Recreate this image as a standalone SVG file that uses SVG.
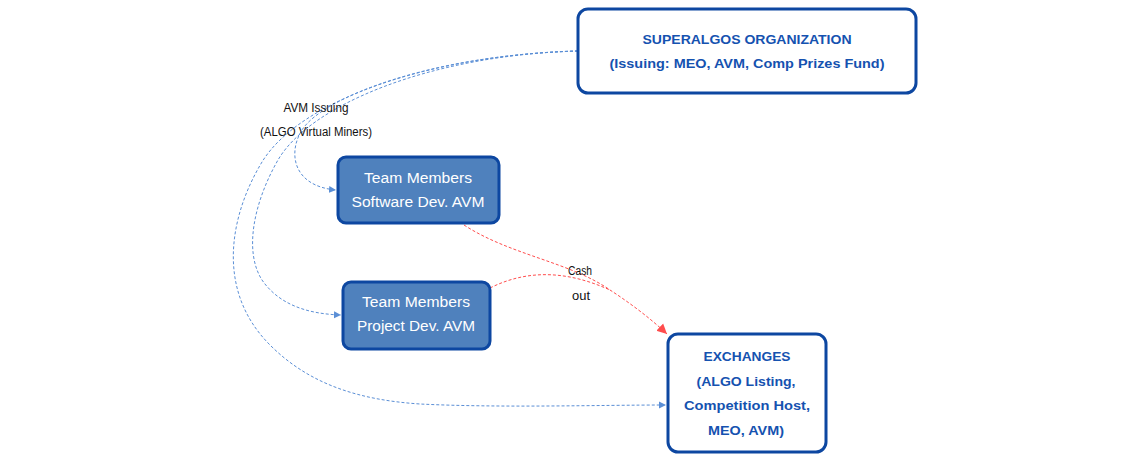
<svg xmlns="http://www.w3.org/2000/svg" width="1140" height="459" viewBox="0 0 1140 459">
<style>
.org{fill:#ffffff;stroke:#0d47a1;stroke-width:3}
.team{fill:#4f81bd;stroke:#0d47a1;stroke-width:3}
.bt{font-family:"Liberation Sans",Arial,sans-serif;font-weight:bold;font-size:13px;fill:#1552b0;text-anchor:middle}
.wt{font-family:"Liberation Sans",Arial,sans-serif;font-size:14px;fill:#ffffff;text-anchor:middle}
.lbl{font-family:"Liberation Sans",Arial,sans-serif;font-size:12px;fill:#111111;text-anchor:middle}
.blue{fill:none;stroke:#5b8fd6;stroke-width:1;stroke-dasharray:3,2}
.red{fill:none;stroke:#ff4d4d;stroke-width:1;stroke-dasharray:3,2}
</style>
<defs>
<marker id="ab" markerWidth="8" markerHeight="8" refX="7" refY="4" orient="auto" markerUnits="userSpaceOnUse">
<path d="M0,0.5 L7,4 L0,7.5 Z" fill="#5b8fd6"/>
</marker>
<marker id="ar" markerWidth="11" markerHeight="11" refX="10" refY="5.5" orient="auto" markerUnits="userSpaceOnUse">
<path d="M0,0.5 L10,5.5 L0,10.5 Z" fill="#ff4d4d"/>
</marker>
</defs>
<rect width="1140" height="459" fill="#ffffff"/>
<g id="connectors">
<path class="blue" d="M578,51 C430,55 322,98 302,130 C288,152 292,186 336,190" marker-end="url(#ab)"/>
<path class="blue" d="M578,51 C430,55 310,105 278,160 C255,200 243,250 262,280 C280,306 310,314 341,315" marker-end="url(#ab)"/>
<path class="blue" d="M578,51 C430,55 300,100 262,162 C230,215 215,290 270,345 C310,385 360,400 420,404 C500,408 600,405 666,405" marker-end="url(#ab)"/>
<path class="red" d="M464,225 C510,255 570,262 610,290 C630,303 650,318 667,334" marker-end="url(#ar)"/>
<path class="red" d="M490,288 C530,268 570,272 610,290"/>
<text class="lbl" x="316" y="112" textLength="65" lengthAdjust="spacingAndGlyphs">AVM Issuing</text>
<text class="lbl" x="316" y="136" textLength="112" lengthAdjust="spacingAndGlyphs">(ALGO Virtual Miners)</text>
<text class="lbl" x="580" y="275" textLength="24" lengthAdjust="spacingAndGlyphs">Cash</text>
<text class="lbl" x="581" y="300" textLength="18" lengthAdjust="spacingAndGlyphs">out</text>
</g>
<g id="superalgos">
<rect class="org" x="578" y="9" width="338" height="84" rx="10"/>
<text class="bt" x="747" y="44" textLength="209" lengthAdjust="spacingAndGlyphs">SUPERALGOS ORGANIZATION</text>
<text class="bt" x="747" y="68" textLength="275" lengthAdjust="spacingAndGlyphs">(Issuing: MEO, AVM, Comp Prizes Fund)</text>
</g>
<g id="team-software">
<rect class="team" x="338" y="157" width="161" height="66" rx="8"/>
<text class="wt" x="418" y="183" textLength="108" lengthAdjust="spacingAndGlyphs">Team Members</text>
<text class="wt" x="418" y="207" textLength="133" lengthAdjust="spacingAndGlyphs">Software Dev. AVM</text>
</g>
<g id="team-project">
<rect class="team" x="343" y="282" width="147" height="67" rx="8"/>
<text class="wt" x="416" y="307" textLength="108" lengthAdjust="spacingAndGlyphs">Team Members</text>
<text class="wt" x="416" y="331" textLength="118" lengthAdjust="spacingAndGlyphs">Project Dev. AVM</text>
</g>
<g id="exchanges">
<rect class="org" x="668" y="334" width="158" height="118" rx="10"/>
<text class="bt" x="747" y="361" textLength="87" lengthAdjust="spacingAndGlyphs">EXCHANGES</text>
<text class="bt" x="746" y="386" textLength="99" lengthAdjust="spacingAndGlyphs">(ALGO Listing,</text>
<text class="bt" x="747" y="410" textLength="126" lengthAdjust="spacingAndGlyphs">Competition Host,</text>
<text class="bt" x="746" y="435" textLength="76" lengthAdjust="spacingAndGlyphs">MEO, AVM)</text>
</g>
</svg>
